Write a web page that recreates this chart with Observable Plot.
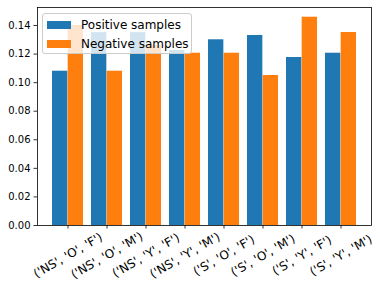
<!DOCTYPE html>
<html>
<head>
<meta charset="utf-8">
<script src="https://cdn.jsdelivr.net/npm/d3@7"></script>
<script src="https://cdn.jsdelivr.net/npm/@observablehq/plot@0.6"></script>
<style>
  html, body { margin: 0; padding: 0; background: #fff; }
  #wrap { position: relative; width: 380px; height: 290px; font-family: "DejaVu Sans", sans-serif; }
  .legend { position: absolute; left: 42px; top: 13px; width: 150px; height: 41px;
    background: rgba(255,255,255,0.8); border: 1px solid #cccccc; border-radius: 3px; box-sizing: border-box; }
  .row { position: absolute; left: 4px; height: 14px; display: flex; align-items: center; font-size: 12px; color: #000; white-space: nowrap; }
  .sw { width: 24px; height: 8px; margin-right: 10px; }
</style>
</head>
<body>
<div id="wrap"></div>
<script>
const categories = ["('NS', 'O', 'F')", "('NS', 'O', 'M')", "('NS', 'Y', 'F')", "('NS', 'Y', 'M')",
                    "('S', 'O', 'F')", "('S', 'O', 'M')", "('S', 'Y', 'F')", "('S', 'Y', 'M')"];
const positive = [0.108, 0.135, 0.135, 0.1225, 0.130, 0.133, 0.1176, 0.1206];
const negative = [0.140, 0.108, 0.126, 0.1206, 0.1206, 0.105, 0.1458, 0.1351];
const seriesNames = ["Positive samples", "Negative samples"];
const seriesColors = ["#1f77b4", "#ff7f0e"];
const yTicks = [0, 0.02, 0.04, 0.06, 0.08, 0.10, 0.12, 0.14];

const W = 380, H = 290, mL = 37, mR = 9, mT = 7, mB = 65;
const pIn = 0.2, pOut = 0.367;
const bw = d3.scaleBand().domain(categories).range([mL, W - mR]).paddingInner(pIn).paddingOuter(pOut).bandwidth();
const half = bw / 2;

const posData = categories.map((c, i) => ({cat: c, v: positive[i]}));
const negData = categories.map((c, i) => ({cat: c, v: negative[i]}));

const chart = Plot.plot({
  width: W, height: H,
  marginLeft: mL, marginRight: mR, marginTop: mT, marginBottom: mB,
  style: {fontFamily: "DejaVu Sans, sans-serif", background: "#fff", color: "#000"},
  x: {domain: categories, paddingInner: pIn, paddingOuter: pOut, axis: null},
  y: {domain: [0, 0.1526], axis: null},
  marks: [
    Plot.barY(posData, {x: "cat", y: "v", fill: seriesColors[0], insetLeft: 0, insetRight: half}),
    Plot.barY(negData, {x: "cat", y: "v", fill: seriesColors[1], insetLeft: half, insetRight: 0}),
    Plot.axisY({ticks: yTicks, tickFormat: d3.format(".2f"), tickSize: 3.5, tickPadding: 3.5, fontSize: 10, strokeWidth: 0.8, label: null}),
    Plot.axisX({tickSize: 3.5, tickFormat: () => "", strokeWidth: 0.8, label: null}),
    Plot.text(categories, {x: d => d, text: d => d, frameAnchor: "bottom", dy: 30, rotate: -30, textAnchor: "middle", lineAnchor: "middle", fontSize: 12, fill: "#000"}),
    Plot.frame({stroke: "#000", strokeWidth: 0.8})
  ]
});

const wrap = document.getElementById("wrap");
wrap.appendChild(chart);
const leg = document.createElement("div");
leg.className = "legend";
seriesNames.forEach((name, i) => {
  const row = document.createElement("div");
  row.className = "row";
  row.style.top = (4 + i * 19) + "px";
  const sw = document.createElement("span");
  sw.className = "sw";
  sw.style.background = seriesColors[i];
  const t = document.createElement("span");
  t.textContent = name;
  row.appendChild(sw); row.appendChild(t);
  leg.appendChild(row);
});
wrap.appendChild(leg);
</script>
</body>
</html>
